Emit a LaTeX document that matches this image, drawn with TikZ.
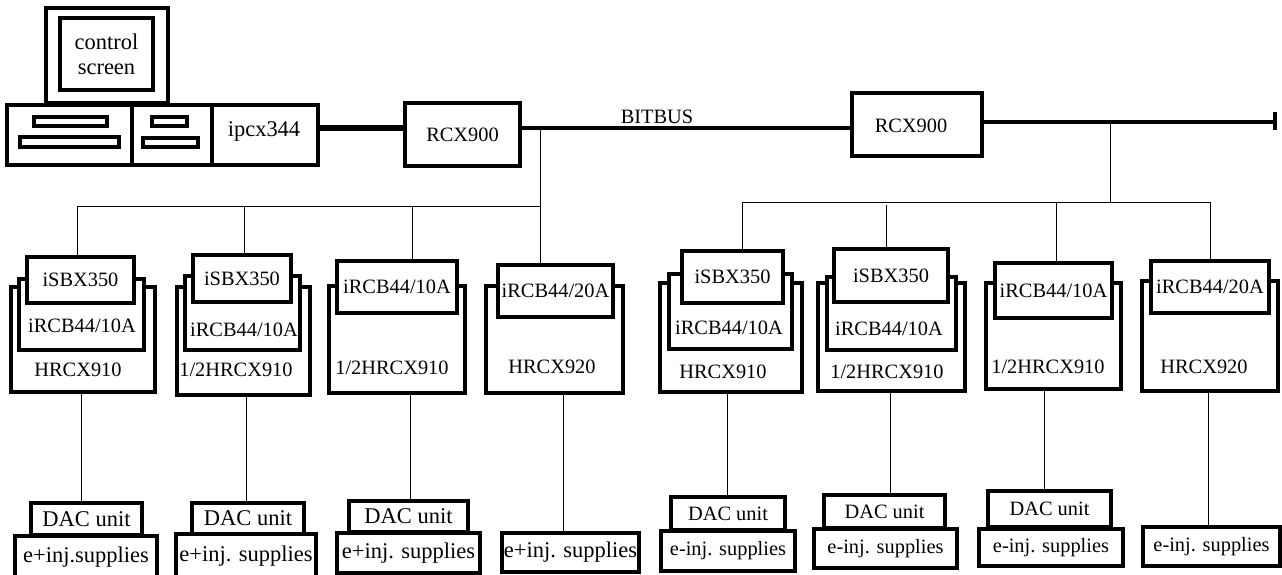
\documentclass[tikz,border=0pt]{standalone}
\usepackage{fontspec}
\setmainfont{Liberation Serif}
\tikzset{
  box/.style={draw, line width=1.9pt, fill=white, inner sep=0pt},
  sz/.style 2 args={minimum width=#1*0.02cm, minimum height=#2*0.02cm},
  lbl/.style={inner sep=0pt},
  big/.style={font=\fontsize{12.8}{14.2}\selectfont},
  wire/.style={line width=0.55pt},
  bus/.style={line width=2pt},
  link/.style={line width=3.7pt}
}
\begin{document}
\begin{tikzpicture}[x=0.02cm, y=-0.02cm, font=\fontsize{11.6}{14.2}\selectfont]
  \useasboundingbox (0,0) rectangle (1282,575);
  % computer
  \node[box, big, sz={122}{95}] (monitor) at (107,55.5) {};
  \node[box, big, sz={93}{72}, align=center] (screen) at (106.5,54) {control\\screen};
  \node[box, sz={125}{60}] (baseL) at (69.5,135) {};
  \node[box, sz={80}{60}] (baseM) at (172,135) {};
  \node[box, sz={106}{60}] (ipcx) at (265,135) {};
  \node[lbl, big] (ipcxtext) at (264,131) {ipcx344};
  \node[box, sz={73}{9}] (slotA) at (70.5,121.5) {};
  \node[box, sz={99}{10}] (slotB) at (69.5,142) {};
  \node[box, sz={35}{9}] (slotC) at (169.5,121.5) {};
  \node[box, sz={55}{9}] (slotD) at (170.5,142.5) {};
  % controllers and bus
  \node[box, sz={115}{63}] (rcxA) at (462.5,134.5) {RCX900};
  \node[box, sz={130}{63}] (rcxB) at (917,124.5) {};
  \node[lbl] (rcxBtext) at (911,126) {RCX900};
  \coordinate (tapA) at (540,128);
  \coordinate (tapB) at (1110,122);
  \coordinate (termB) at (1275,122);
  \coordinate (termT) at (1275,112);
  \coordinate (termU) at (1275,130);
  \draw[link] (ipcx.east |- tapA) -- (rcxA.west |- tapA);
  \draw[bus] (rcxA.east |- tapA) -- (rcxB.west |- tapA);
  \draw[bus] (rcxB.east |- tapB) -- (termB);
  \draw[bus] (termT) -- (termU);
  \node[lbl] (bitbus) at (657,117) {BITBUS};
  % left crates
  \node[box, sz={144}{105}] (hrcA) at (83,339.5) {};
  \node[box, sz={125}{71}] (rcbA) at (81.5,314.5) {};
  \node[box, sz={107}{46}] (sbxA) at (80.5,280) {iSBX350};
  \node[lbl] (rcbAtext) at (82,326) {iRCB44/10A};
  \node[lbl] (hrcAtext) at (78,370) {HRCX910};
  \node[box, sz={133}{108}] (hrcB) at (243.5,341) {};
  \node[box, sz={115}{74}] (rcbB) at (242.5,313) {};
  \node[box, sz={98}{47}] (sbxB) at (242,278.5) {iSBX350};
  \node[lbl] (rcbBtext) at (244,330) {iRCB44/10A};
  \node[lbl] (hrcBtext) at (236,370) {1/2HRCX910};
  \node[box, sz={136}{107}] (hrcC) at (397,339.5) {};
  \node[box, sz={120}{52}] (rcbC) at (397,287) {iRCB44/10A};
  \node[lbl] (hrcCtext) at (392,368) {1/2HRCX910};
  \node[box, sz={137}{107}] (hrcD) at (554.5,339.5) {};
  \node[box, sz={115}{52}] (rcbD) at (555.5,291) {iRCB44/20A};
  \node[lbl] (hrcDtext) at (552,367) {HRCX920};
  % right crates
  \node[box, sz={142}{109}] (hrcE) at (731,337.5) {};
  \node[box, sz={123}{75}] (rcbE) at (730.5,311.5) {};
  \node[box, sz={101}{52}] (sbxE) at (732.5,277) {iSBX350};
  \node[lbl] (rcbEtext) at (729,328) {iRCB44/10A};
  \node[lbl] (hrcEtext) at (723,372) {HRCX910};
  \node[box, sz={147}{108}] (hrcF) at (891.5,337) {};
  \node[box, sz={129}{73}] (rcbF) at (891.5,313.5) {};
  \node[box, sz={114}{53}] (sbxF) at (891,275.5) {iSBX350};
  \node[lbl] (rcbFtext) at (889,329) {iRCB44/10A};
  \node[lbl] (hrcFtext) at (887,372) {1/2HRCX910};
  \node[box, sz={135}{106}] (hrcG) at (1053.5,336) {};
  \node[box, sz={117}{55}] (rcbG) at (1053.5,290.5) {iRCB44/10A};
  \node[lbl] (hrcGtext) at (1048,367) {1/2HRCX910};
  \node[box, sz={136}{110}] (hrcH) at (1210,336) {};
  \node[box, sz={118}{52}] (rcbH) at (1210,287) {iRCB44/20A};
  \node[lbl] (hrcHtext) at (1204,367) {HRCX920};
  % dac units and supplies
  \node[box, big, sz={111}{32}] (dacA) at (86.5,519) {DAC unit};
  \node[box, big, sz={142}{42}] (supA) at (86,557) {e+inj.supplies};
  \node[box, big, sz={112}{31}] (dacB) at (248,518.5) {DAC unit};
  \node[box, big, sz={140}{44}] (supB) at (246,556) {e+inj. supplies};
  \node[box, big, sz={119}{31}] (dacC) at (408.5,516.5) {DAC unit};
  \node[box, big, sz={143}{40}] (supC) at (408.5,553) {e+inj. supplies};
  \node[box, big, sz={137}{39}] (supD) at (570.5,552.5) {e+inj. supplies};
  \node[box, sz={114}{33}] (dacE) at (728,513.5) {DAC unit};
  \node[box, sz={134}{40}] (supE) at (728,551) {e-inj. supplies};
  \node[box, sz={121}{33}] (dacF) at (884.5,511.5) {DAC unit};
  \node[box, sz={143}{39}] (supF) at (885.5,548.5) {e-inj. supplies};
  \node[box, sz={123}{36}] (dacG) at (1049.5,509) {DAC unit};
  \node[box, sz={144}{37}] (supG) at (1051,547.5) {e-inj. supplies};
  \node[box, sz={137}{39}] (supH) at (1211.5,546.5) {e-inj. supplies};
  % branches from the bus
  \coordinate (hubA) at (540,206);
  \coordinate (dropA1) at (77,206);
  \coordinate (dropA2) at (244,206);
  \coordinate (dropA3) at (412,206);
  \coordinate (hubB) at (1110,202);
  \coordinate (dropB1) at (742,202);
  \coordinate (dropB2) at (886,205);
  \coordinate (dropB3) at (1056,202);
  \coordinate (dropB4) at (1210,202);
  \draw[wire] (tapA) -- (hubA);
  \draw[wire] (dropA1) -- (hubA);
  \draw[wire] (dropA1) -- (dropA1 |- sbxA.north);
  \draw[wire] (dropA2) -- (dropA2 |- sbxB.north);
  \draw[wire] (dropA3) -- (dropA3 |- rcbC.north);
  \draw[wire] (hubA) -- (hubA |- rcbD.north);
  \draw[wire] (tapB) -- (hubB);
  \draw[wire] (dropB1) -- (dropB4);
  \draw[wire] (dropB1) -- (dropB1 |- sbxE.north);
  \draw[wire] (dropB2) -- (dropB2 |- sbxF.north);
  \draw[wire] (dropB3) -- (dropB3 |- rcbG.north);
  \draw[wire] (dropB4) -- (dropB4 |- rcbH.north);
  % crate to supply
  \coordinate (outA) at (81,392);
  \coordinate (outB) at (246,395);
  \coordinate (outC) at (410,393);
  \coordinate (outD) at (563,393);
  \coordinate (outE) at (727,392);
  \coordinate (outF) at (890,391);
  \coordinate (outG) at (1044,389);
  \coordinate (outH) at (1208,391);
  \draw[wire] (outA) -- (outA |- dacA.north);
  \draw[wire] (outB) -- (outB |- dacB.north);
  \draw[wire] (outC) -- (outC |- dacC.north);
  \draw[wire] (outD) -- (outD |- supD.north);
  \draw[wire] (outE) -- (outE |- dacE.north);
  \draw[wire] (outF) -- (outF |- dacF.north);
  \draw[wire] (outG) -- (outG |- dacG.north);
  \draw[wire] (outH) -- (outH |- supH.north);
\end{tikzpicture}
\end{document}
